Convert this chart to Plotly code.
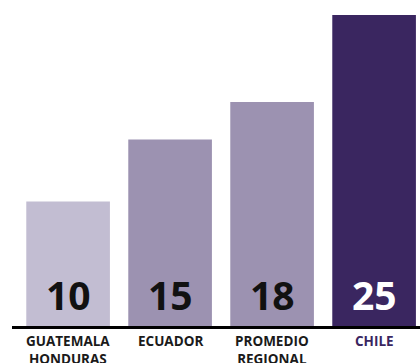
import plotly.graph_objects as go

categories = ["GUATEMALA<br>HONDURAS", "ECUADOR", "PROMEDIO<br>REGIONAL", "CHILE"]
values = [10, 15, 18, 25]
bar_colors = ["#C2BDD2", "#9C92B1", "#9C92B1", "#3A2660"]
label_colors = ["#111111", "#111111", "#111111", "#FFFFFF"]
tick_colors = ["#1A1A1A", "#1A1A1A", "#1A1A1A", "#3A2660"]

x = list(range(len(categories)))

fig = go.Figure()
fig.add_trace(go.Bar(
    x=x, y=values,
    marker=dict(color=bar_colors, line=dict(width=0)),
    hoverinfo="skip",
))

for i, v in enumerate(values):
    fig.add_annotation(
        x=i, y=0, yref="y", xref="x",
        text=f"<b>{v}</b>", showarrow=False,
        yanchor="bottom", yshift=3,
        font=dict(family="Open Sans", size=39, color=label_colors[i]),
    )
    fig.add_annotation(
        x=i, y=0, yref="paper", xref="x",
        text=f"<b>{categories[i]}</b>", showarrow=False,
        yanchor="top", yshift=-4,
        font=dict(family="Open Sans", size=13.5, color=tick_colors[i]),
        align="center",
    )

fig.update_layout(
    width=420, height=363,
    margin=dict(l=12, r=0, t=15, b=37),
    paper_bgcolor="white", plot_bgcolor="white",
    bargap=0.18,
    showlegend=False,
    xaxis=dict(range=[-0.55, 3.45], showticklabels=False, showgrid=False,
               zeroline=False, showline=True, linecolor="#000000", linewidth=3,
               ticks=""),
    yaxis=dict(range=[0, 25], visible=False, showgrid=False, zeroline=False),
)

fig.write_html("out.html")
